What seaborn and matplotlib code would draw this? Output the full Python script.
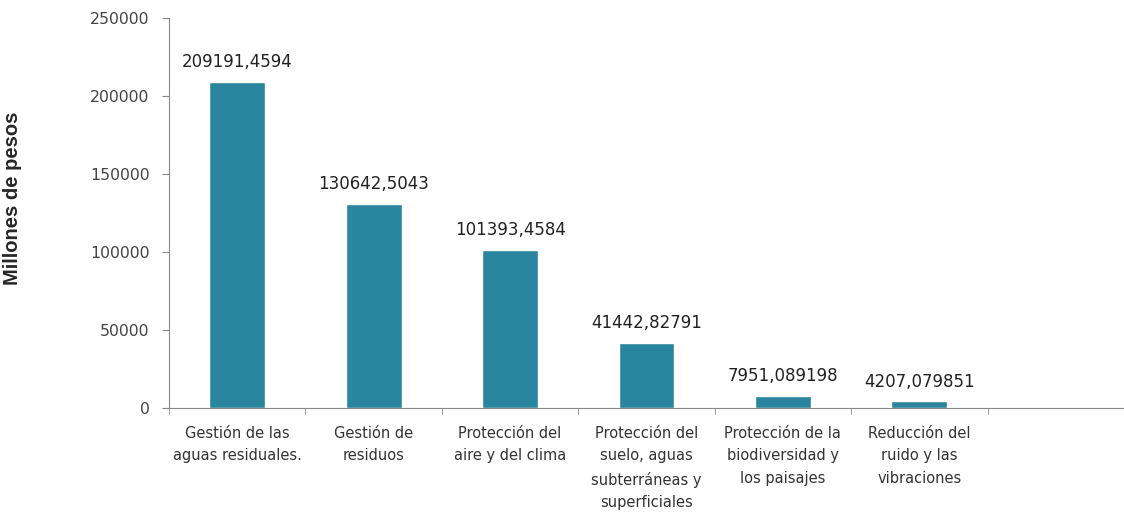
import pandas as pd
import matplotlib
matplotlib.use('Agg')
import matplotlib.pyplot as plt
import seaborn as sns

# Gasto en protección ambiental por dominio (millones de pesos)
categorias = [
    'Gestión de las\naguas residuales.',
    'Gestión de\nresiduos',
    'Protección del\naire y del clima',
    'Protección del\nsuelo, aguas\nsubterráneas y\nsuperficiales',
    'Protección de la\nbiodiversidad y\nlos paisajes',
    'Reducción del\nruido y las\nvibraciones',
]
valores = [209191.4594, 130642.5043, 101393.4584, 41442.82791, 7951.089198, 4207.079851]
etiquetas = ['209191,4594', '130642,5043', '101393,4584', '41442,82791', '7951,089198', '4207,079851']
yticks = [0, 50000, 100000, 150000, 200000, 250000]

df = pd.DataFrame({'Categoria': categorias, 'Valor': valores})

sns.set_style('white')
plt.rcParams['font.family'] = ['DejaVu Sans']

fig = plt.figure(figsize=(11.24, 5.12), dpi=100)
ax = fig.add_axes([169 / 1124, 104 / 512, 1 - 169 / 1124, 390 / 512])

sns.barplot(data=df, x='Categoria', y='Valor', color='#2a869f', saturation=1,
            width=0.41, ax=ax)

# value labels above each bar
for i, (v, t) in enumerate(zip(valores, etiquetas)):
    ax.text(i, v + 7000, t, ha='center', va='bottom', fontsize=12, color='#222222')

ax.set_xlim(-0.5, 6.5)
ax.set_ylim(0, 250000)
ax.set_yticks(yticks)
ax.set_yticklabels([str(t) for t in yticks], fontsize=11.3, color='#444444')

ax.set_xticks(range(len(categorias)))
ax.set_xticklabels(categorias, fontsize=10.5, color='#333333', linespacing=1.62)
ax.set_xticks([x - 0.5 for x in range(8)], minor=True)
ax.tick_params(axis='x', which='major', length=0, pad=13)
ax.tick_params(axis='x', which='minor', length=4, color='#888888', direction='out', bottom=True)
ax.tick_params(axis='y', length=5, color='#888888', direction='out', left=True, pad=9)

ax.set_xlabel('')
ax.set_ylabel('Millones de pesos', fontsize=14.5, fontweight='bold',
              fontfamily='Liberation Sans')
ax.yaxis.set_label_coords(-(169 - 22) / 955, (408 - 198) / 390)

sns.despine(ax=ax)
ax.spines['left'].set_color('#888888')
ax.spines['bottom'].set_color('#888888')

fig.savefig('out.png', dpi=100)
